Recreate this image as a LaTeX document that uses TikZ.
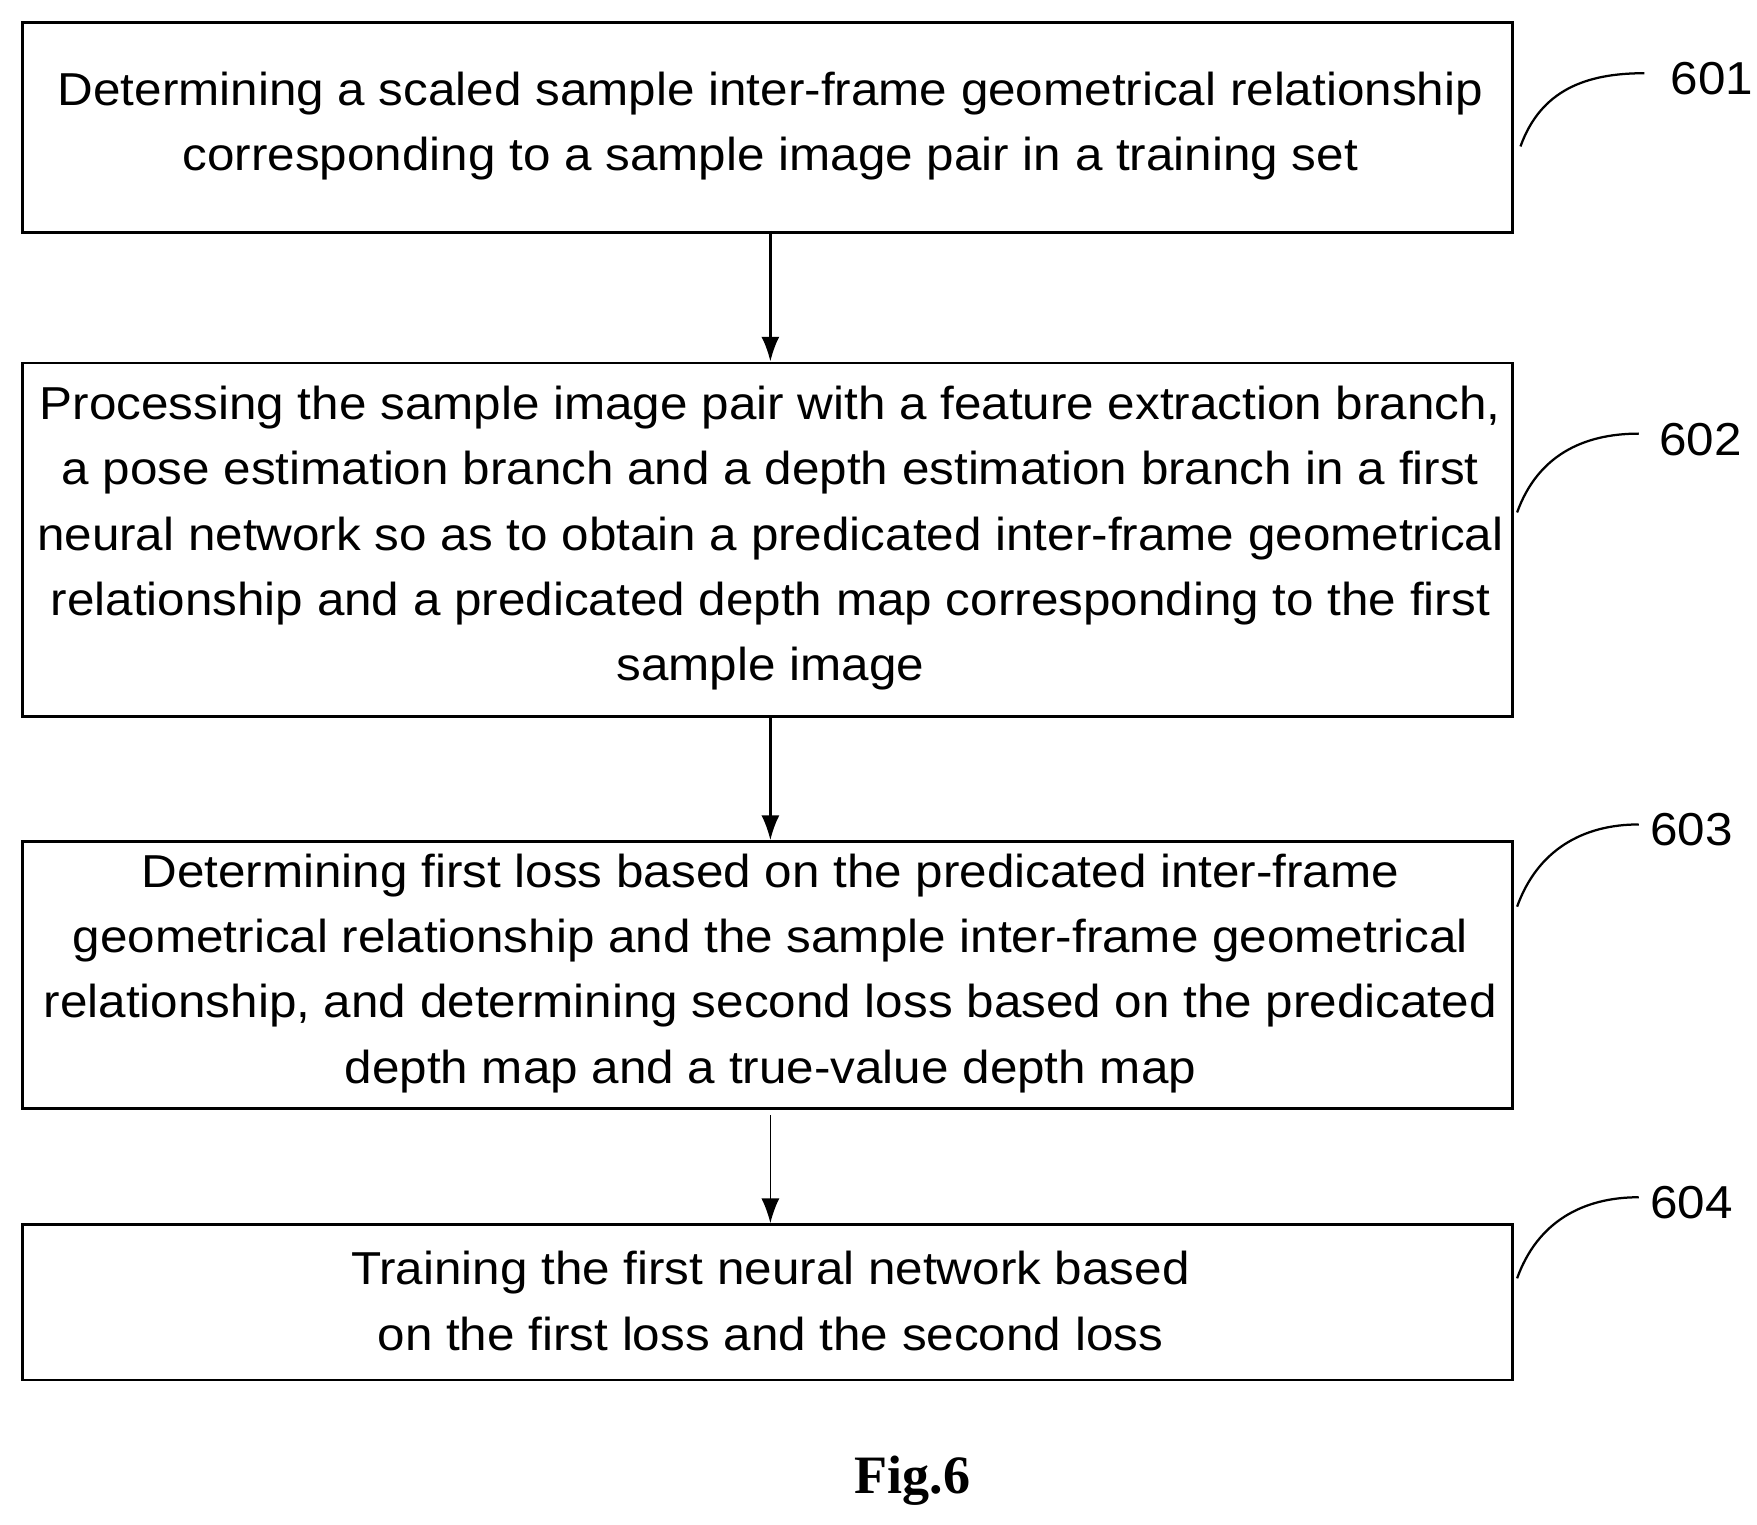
\documentclass[tikz,border=0pt]{standalone}
\usetikzlibrary{arrows.meta}
\usepackage{fontspec}
\setmainfont[FakeStretch=1.07]{Liberation Sans}
\newfontfamily\figfont{Liberation Serif}
\begin{document}
\begin{tikzpicture}[x=0.5pt,y=-0.5pt,
  box/.style={draw,line width=1.2pt,inner sep=0pt},
  txt/.style={align=center,font=\fontsize{20.5pt}{29pt}\selectfont},
  arr/.style={-{Latex[length=11pt,width=8pt]},line width=1pt},
  lbl/.style={font=\fontsize{20.5pt}{24pt}\selectfont}]
\useasboundingbox (0,0) rectangle (1560,1354);
\node[box,minimum width=661.5pt,minimum height=93pt,anchor=north west] (b1) at (19,19) {};
\node[txt] (t1) at (684,112) {Determining a scaled sample inter-frame geometrical relationship\\corresponding to a sample image pair in a training set};
\node[box,minimum width=661.5pt,minimum height=157pt,anchor=north west] (b2) at (19,321) {};
\node[txt] (t2) at (684,478) {Processing the sample image pair with a feature extraction branch,\\a pose estimation branch and a depth estimation branch in a first\\neural network so as to obtain a predicated inter-frame geometrical\\relationship and a predicated depth map corresponding to the first\\sample image};
\node[box,minimum width=661.5pt,minimum height=118.5pt,anchor=north west] (b3) at (19,746) {};
\node[txt] (t3) at (684,864) {Determining first loss based on the predicated inter-frame\\geometrical relationship and the sample inter-frame geometrical\\relationship, and determining second loss based on the predicated\\depth map and a true-value depth map};
\node[box,minimum width=661.5pt,minimum height=69pt,anchor=north west] (b4) at (19,1086) {};
\node[txt] (t4) at (684,1155) {Training the first neural network based\\on the first loss and the second loss};
\coordinate (a1) at (684,205); \coordinate (a1e) at (684,321);
\coordinate (a2) at (684,635); \coordinate (a2e) at (684,746);
\coordinate (a3) at (684,990); \coordinate (a3e) at (684,1086);
\draw[arr] (a1) -- (a1e);
\draw[arr] (a2) -- (a2e);
\draw[arr,line width=0.6pt] (a3) -- (a3e);
\node[lbl] (l1) at (1520,70) {601};
\node[lbl] (l2) at (1510,390) {602};
\node[lbl] (l3) at (1502,737) {603};
\node[lbl] (l4) at (1502,1068) {604};
\draw[line width=1pt] (1350,130) .. controls (1368,80) and (1408,65) .. (1460,65);
\draw[line width=1pt] (1347,455) .. controls (1365,405) and (1405,385) .. (1455,385);
\draw[line width=1pt] (1347,805) .. controls (1365,755) and (1405,732) .. (1455,732);
\draw[line width=1pt] (1347,1135) .. controls (1365,1085) and (1405,1063) .. (1455,1063);
\node[font=\figfont\bfseries\fontsize{24pt}{28pt}\selectfont] (fig) at (810,1315) {Fig.6};
\end{tikzpicture}
\end{document}
